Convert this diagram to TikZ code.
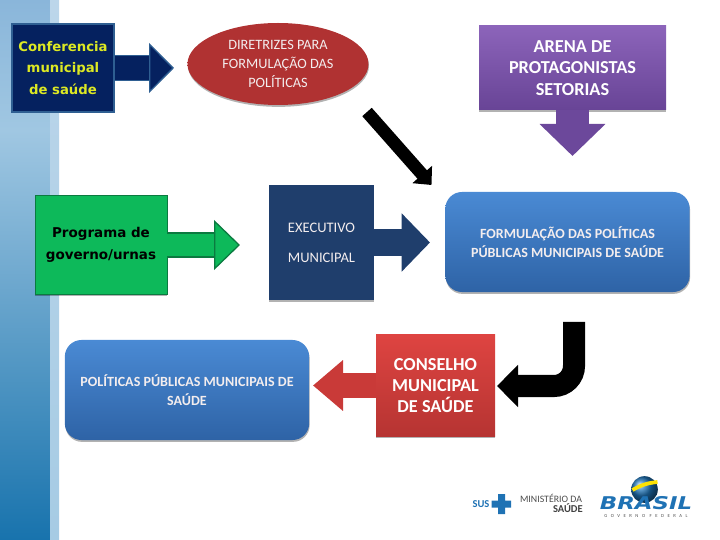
\documentclass[tikz,border=0pt]{standalone}
\usepackage{fontspec}
\setmainfont{Carlito}
\newfontfamily\verdfont{DejaVu Sans}
\usetikzlibrary{arrows.meta,positioning,shapes.geometric,shadows}

\definecolor{navybox}{HTML}{05215F}
\definecolor{navyedge}{HTML}{2F5F92}
\definecolor{execblue}{HTML}{1F3E6C}
\definecolor{greenbox}{HTML}{0DB95A}
\definecolor{greenedge}{HTML}{0B7A40}
\definecolor{purplearr}{HTML}{6C489B}
\definecolor{purpletop}{HTML}{8C64BA}
\definecolor{purplelow}{HTML}{684496}
\definecolor{redarr}{HTML}{C93A38}
\definecolor{redtop}{HTML}{DE4441}
\definecolor{redlow}{HTML}{B63432}
\definecolor{ovalmid}{HTML}{D44644}
\definecolor{ovalrim}{HTML}{B03232}
\definecolor{bluetop}{HTML}{4A8AD4}
\definecolor{bluelow}{HTML}{2E63A6}
\definecolor{soft}{HTML}{F3EDEE}
\definecolor{logoblue}{HTML}{1F72B4}
\definecolor{ribbontop}{HTML}{8AB6DA}
\definecolor{ribbonmid}{HTML}{A0C7E2}
\definecolor{ribbonlow}{HTML}{1873AD}
\definecolor{bandtop}{HTML}{BCD6EA}
\definecolor{bandlow}{HTML}{A6CBE4}

\begin{document}
\begin{tikzpicture}[
  x=0.03cm, y=-0.03cm,
  box/.style={align=center, inner sep=0pt,
    drop shadow={shadow xshift=0.4pt, shadow yshift=-1.6pt, opacity=.3, fill=black}},
  bluebox/.style={box, rounded corners=5mm, top color=bluetop, bottom color=bluelow,
    minimum width=7.33cm, minimum height=3cm, text=soft, font=\fontsize{12pt}{16.6pt}\selectfont\bfseries},
  blockarr/.style n args={4}{draw=#4, line width=#1cm, -{Triangle[length=#2cm,width=#3cm,fill=#4]}},
  edgearr/.style n args={5}{draw=#5, line width=#1cm, -{Triangle[length=#2cm,width=#3cm,fill=#4,line width=1.1pt]},
    postaction={draw=#4, -, line width=#1cm-2.2pt, shorten >=#2cm}}
]
% side ribbon
\shade[top color=ribbontop, bottom color=ribbonmid] (0,0) rectangle (50,130);
\shade[top color=ribbonmid, bottom color=ribbonlow] (0,130) rectangle (50,540);
\shade[top color=bandtop, bottom color=bandlow] (50,0) rectangle (59,540);
\useasboundingbox (0,0) rectangle (720,540);

% boxes
\node[rectangle, draw=navyedge, line width=1.7pt, fill=navybox, minimum width=3.08cm, minimum height=2.66cm,
  text=yellow!85!green!90!white, align=center, font=\verdfont\fontsize{11.3pt}{18.4pt}\selectfont\bfseries] (conf) at (63,68)
  {Conferencia\\ municipal\\ de saúde};
\node[box, ellipse, minimum width=5.43cm, minimum height=2.46cm, middle color=ovalmid,
  top color=ovalrim, bottom color=ovalrim, text=soft,
  font=\fontsize{12.2pt}{16.2pt}\selectfont] (dir) at (278,64)
  {DIRETRIZES PARA\\ FORMULAÇÃO DAS\\ POLÍTICAS};
\node[box, minimum width=5.61cm, minimum height=2.52cm, top color=purpletop,
  bottom color=purplelow, text=white, font=\fontsize{15.6pt}{18.4pt}\selectfont\bfseries] (arena) at (572.5,68)
  {ARENA DE\\ PROTAGONISTAS\\ SETORIAS};
\node[box, draw=greenedge, line width=.6pt, fill=greenbox, minimum width=3.96cm, minimum height=2.97cm,
  text=black, font=\verdfont\fontsize{11.5pt}{19pt}\selectfont\bfseries] (prog) at (101,245)
  {Programa de\\ governo/urnas};
\node[box, fill=execblue, minimum width=3.15cm, minimum height=3.45cm, text=soft,
  font=\fontsize{12.4pt}{25.6pt}\selectfont] (exec) at (321.5,242.5)
  {EXECUTIVO\\ MUNICIPAL};
\node[bluebox] (form) at (567.5,242)
  {FORMULAÇÃO DAS POLÍTICAS\\ PÚBLICAS MUNICIPAIS DE SAÚDE};
\node[bluebox] (polit) at (187,390)
  {POLÍTICAS PÚBLICAS MUNICIPAIS DE\\ SAÚDE};
\node[box, minimum width=3.57cm, minimum height=3.03cm, top color=redtop,
  bottom color=redlow, text=white, font=\fontsize{15.6pt}{18pt}\selectfont\bfseries] (cons) at (435.5,385.5)
  {CONSELHO\\ MUNICIPAL\\ DE SAÚDE};

% free arrow ends
\coordinate (dirtip) at (174,68);
\coordinate (progtip) at (240,245);
\coordinate (exectip) at (430,242.5);
\coordinate (arenatip) at (572.5,156);
\coordinate (slanttail) at (367,112);
\coordinate (slanttip) at (431.5,185);
\coordinate (benttail) at (574,322);
\coordinate (benttip) at (497,386);
\coordinate (constip) at (313,385.5);

% arrows
\draw[edgearr={.78}{.75}{1.5}{navybox}{navyedge}] (conf.east) -- (dirtip);
\draw[edgearr={.76}{.78}{1.5}{greenbox}{greenedge}] (prog.east) -- (progtip);
\draw[blockarr={.8}{.85}{1.7}{execblue}] (exec.east) -- (exectip);
\draw[blockarr={1}{.96}{1.92}{purplearr}] (arena.south) -- (arenatip);
\draw[blockarr={.72}{.9}{1.47}{redarr}] (cons.west) -- (constip);
\draw[blockarr={.38}{.42}{.76}{black}] (slanttail) -- (slanttip);
\draw[blockarr={.66}{.63}{1.23}{black}, rounded corners=.6cm] (benttail) |- (benttip);

% logos
\node[font=\fontsize{9pt}{9pt}\selectfont\bfseries, text=logoblue, inner sep=0pt] (sus) at (481,504) {SUS};
\fill[logoblue] (498,494) rectangle (505,514) (491.5,500.5) rectangle (511,507.5);
\node[font=\fontsize{8.4pt}{8.4pt}\selectfont, text=black!70, inner sep=0pt] (minis) at (551,498.5) {MINISTÉRIO DA};
\node[font=\fontsize{9pt}{9pt}\selectfont\bfseries, text=black!75, inner sep=0pt, anchor=east] (saude) at (583,508.5) {SAÚDE};
\shade[ball color=logoblue] (644.5,489.5) circle (.4cm);
\draw[yellow!85!orange, line width=3.2pt] (632.5,490) to[bend left=12] (657.5,482);
\node[font=\verdfont\fontsize{15pt}{15pt}\selectfont\bfseries\itshape, text=logoblue, inner sep=0pt, xscale=1.3] (brasil) at (646,503.5) {BRASIL};
\node[font=\fontsize{4pt}{4pt}\selectfont\addfontfeature{LetterSpace=75}, text=black!70, inner sep=0pt] (gov) at (646,516) {GOVERNO FEDERAL};
\end{tikzpicture}
\end{document}
